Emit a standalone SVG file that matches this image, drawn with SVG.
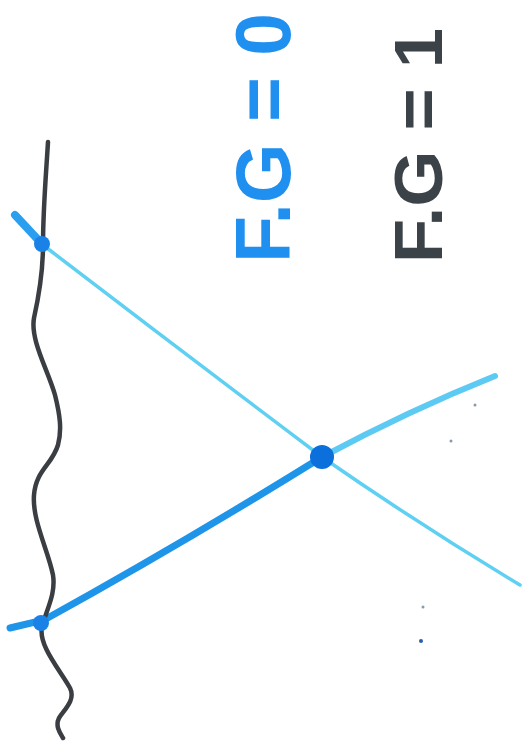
<svg xmlns="http://www.w3.org/2000/svg" width="525" height="755" viewBox="0 0 525 755">
<style>
.lbl{font-family:"Liberation Sans",Arial,sans-serif;font-weight:bold}
.wave{fill:none;stroke:#3a3d42;stroke-width:4.5;stroke-linecap:round;stroke-linejoin:round}
.fer{fill:none;stroke-linecap:round}
</style>
<rect width="525" height="755" fill="#ffffff"/>
<g id="connectors">
<path class="fer" d="M15,215 L43,245" stroke="#2a9ff0" stroke-width="8"/>
<path class="fer" d="M43,245 Q180,350 322,457 Q420,525 520,585" stroke="#5fd0f2" stroke-width="3.5"/>
<path class="fer" d="M10,628 L44,620 Q180,545 322,457" stroke="#1f95ea" stroke-width="7"/>
<path class="fer" d="M322,457 Q410,410 495,376" stroke="#5ccaf2" stroke-width="6"/>
<path class="wave" d="M48,142 C46,175 43,210 43,245 C43,270 38,300 34,318 C30,340 48,370 55,395 C60,415 62,430 58,445 C52,465 36,470 34,495 C32,520 48,550 53,575 C56,595 46,610 42,627 C38,645 60,670 70,688 C76,700 64,710 59,718 C55,726 60,733 63,738"/>
</g>
<g id="vertex-top"><circle cx="42" cy="244" r="8" fill="#1a82e6"/></g>
<g id="vertex-bottom"><circle cx="41" cy="623" r="8" fill="#1a82e6"/></g>
<g id="vertex-center"><ellipse cx="322" cy="457" rx="12" ry="12" fill="#0b6fdc"/></g>
<g id="label-fg0"><text class="lbl" transform="translate(290,263) rotate(-90)" font-size="78" fill="#1f8ff0" textLength="250" lengthAdjust="spacingAndGlyphs">F.G = 0</text></g>
<g id="label-fg1"><text class="lbl" transform="translate(442,263) rotate(-90)" font-size="68" fill="#3b4248" textLength="235" lengthAdjust="spacingAndGlyphs">F.G = 1</text></g>
<g id="specks" fill="#8a9aa8">
<circle cx="475" cy="405" r="1.5"/><circle cx="451" cy="441" r="1.5"/><circle cx="423" cy="607" r="1.5"/><circle cx="421" cy="641" r="2" fill="#2a5fa8"/>
</g>
</svg>
